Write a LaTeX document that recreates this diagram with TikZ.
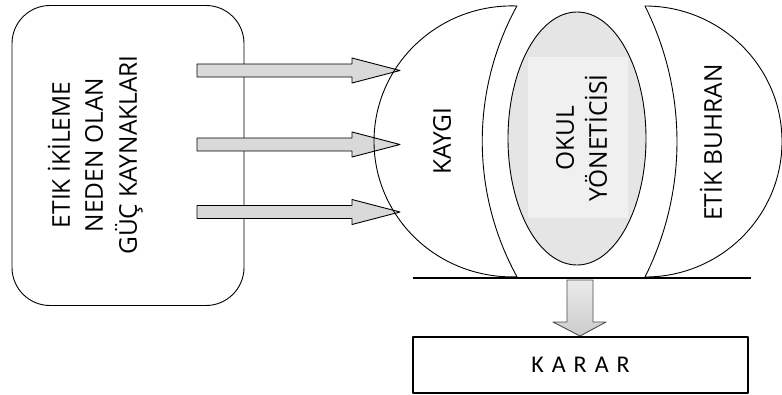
\documentclass[tikz,border=0pt]{standalone}
\usepackage{fontspec}
\setmainfont{Open Sans}
\newfontfamily\karfont{Carlito}
\usetikzlibrary{shapes.geometric}
\begin{document}
\begin{tikzpicture}[x=1pt,y=-1pt,line join=round,
  lbl/.style={font=\fontsize{24.5}{29}\selectfont,text=black,rotate=90,inner sep=0pt,anchor=center,text height=17.5pt,text depth=0pt},
  piece/.style={draw,line width=0.9pt},
  blockarrow/.style={draw,line width=0.9pt,fill=black!15},
  downarrow/.style={draw=black!70,line width=0.9pt,top color=black!8,bottom color=black!20},
  pics/rarrow/.style={code={
    \draw[blockarrow] (0,-6.5) -- (155,-6.5) -- (155,-12.5) -- (203,0) -- (155,12.5) -- (155,6.5) -- (0,6.5) -- cycle;}}
]
\useasboundingbox (0,0) rectangle (782,394);

% source box
\node (src) [draw,line width=0.9pt,rounded corners=38pt,minimum width=232pt,minimum height=300pt,inner sep=0pt] at (128,155.5) {};
\node (src1) [lbl] at (61,155) {ETIK İKİLEME};
\node (src2) [lbl] at (94,155) {NEDEN OLAN};
\node (src3) [lbl] at (128,155) {GÜÇ KAYNAKLARI};

% arrows (drawn below the globe outlines)
\pic at (197,70.5) {rarrow};
\pic at (197,144.5) {rarrow};
\pic at (197,212) {rarrow};

% globe pieces
\draw[piece] (517,6) arc[start angle=87.92,end angle=272.08,x radius=138pt,y radius=135.5pt]
  arc[start angle=208.78,end angle=151.22,radius=281.5pt] -- cycle;
\draw[piece] (645,6) arc[start angle=90,end angle=-90,x radius=137pt,y radius=135.5pt]
  arc[start angle=-26.57,end angle=26.57,radius=302.9pt] -- cycle;

% middle ellipse
\node (mgr) [draw,ellipse,line width=0.9pt,fill=black!10,minimum width=138pt,minimum height=253pt,inner sep=0pt] at (577,138.5) {};
\fill[black!6] (528,57) rectangle (628,218);

\node (kaygi) [lbl] at (442,141) {KAYGI};
\node (okul1) [lbl] at (565,138) {OKUL};
\node (okul2) [lbl] at (598,138) {YÖNETİCİSİ};
\node (buhran) [lbl] at (713,142.5) {ETİK BUHRAN};

% base line
\coordinate (bl) at (413,278);
\coordinate (br) at (751,278);
\draw[line width=1.1pt] (bl) -- (br);

% down arrow
\draw[downarrow] (567,280) -- (593,280) -- (593,322) -- (606,322) -- (580,336) -- (553,322) -- (567,322) -- cycle;

% decision box
\node (karar) [draw,line width=1.2pt,minimum width=335pt,minimum height=56pt,inner sep=0pt,font=\karfont\fontsize{24}{24}\selectfont] at (580.5,365) {K\,\,A\,\,R\,\,A\,\,R};
\end{tikzpicture}
\end{document}
